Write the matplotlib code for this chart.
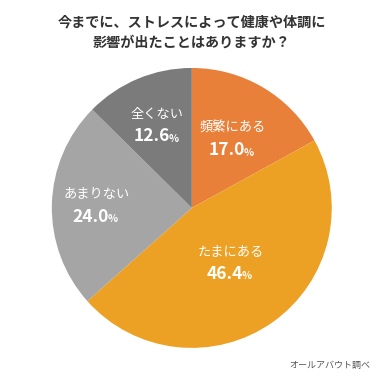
import numpy as np
import matplotlib.pyplot as plt

plt.rcParams['font.family'] = ['Noto Sans CJK JP', 'DejaVu Sans']

title = "今までに、ストレスによって健康や体調に\n影響が出たことはありますか？"
labels = ["頻繁にある", "たまにある", "あまりない", "全くない"]
values = [17.0, 46.4, 24.0, 12.6]
colors = ["#E8803A", "#EDA124", "#A5A5A5", "#7B7B7B"]
source = "オールアバウト調べ"

fig = plt.figure(figsize=(3.84, 3.84), dpi=100)
ax = fig.add_axes([0.135, 0.094, 0.729, 0.729])
wedges, _ = ax.pie(values, colors=colors, startangle=90, counterclock=False,
                   radius=1.0)
ax.set_xlim(-1, 1)
ax.set_ylim(-1, 1)
ax.set_aspect('equal')

# distance of each label from centre, as fraction of radius
label_r = [0.57, 0.48, 0.68, 0.64]

renderer = fig.canvas.get_renderer()
for w, name, v, r in zip(wedges, labels, values, label_r):
    ang = np.deg2rad((w.theta1 + w.theta2) / 2)
    x, y = r * np.cos(ang), r * np.sin(ang)
    ax.text(x, y + 0.08, name, ha='center', va='center', color='white',
            fontsize=9.5)
    num = ax.text(x - 0.04, y - 0.08, f"{v:.1f}", ha='center', va='center',
                  color='white', fontsize=12.5, fontweight='bold')
    bb = num.get_window_extent(renderer)
    px, _ = ax.transData.inverted().transform((bb.x1, bb.y0))
    ax.text(px - 0.01, y - 0.095, "%", ha='left', va='center', color='white',
            fontsize=7.5, fontweight='bold')

fig.text(0.5, 0.915, title, ha='center', va='center', fontsize=10.2,
         fontweight='bold', color='#333333', linespacing=1.5)
fig.text(0.965, 0.048, source, ha='right', va='center', fontsize=6.5,
         color='#555555')

fig.savefig("out.png", dpi=100)
